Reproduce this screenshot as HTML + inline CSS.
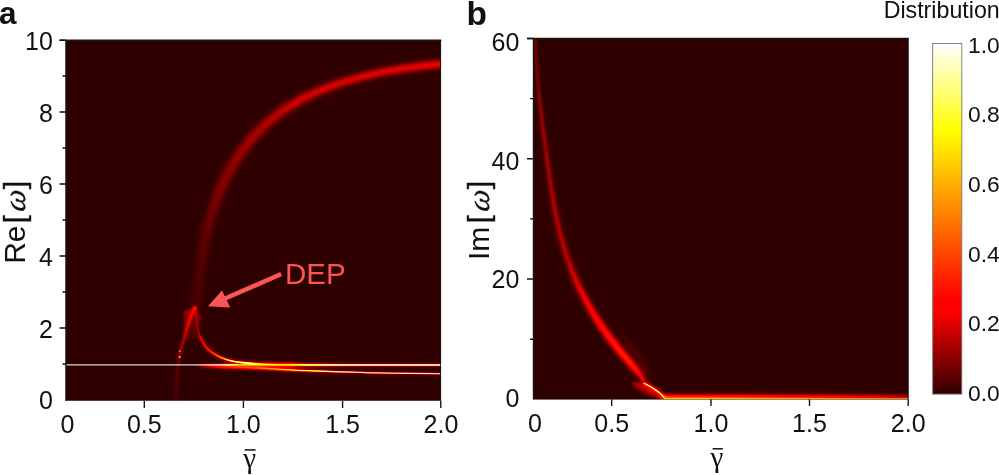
<!DOCTYPE html>
<html><head><meta charset="utf-8"><title>Figure</title>
<style>
html,body{margin:0;padding:0;background:#fff;}
body{width:999px;height:475px;overflow:hidden;position:relative;}
svg{position:absolute;left:0;top:0;display:block;}
text{font-family:"Liberation Sans",sans-serif;fill:#111;}
.tk{font-size:25px;}
.cb{font-size:22.8px;}
.ax text{font-size:30px;}
.ax text.om{font-family:"Liberation Serif","DejaVu Serif",serif;font-style:italic;font-size:30.5px;stroke:#111;stroke-width:0.3px;}
.ax text.br{stroke:#111;stroke-width:0.4px;}
.gm{font-family:"Liberation Serif","DejaVu Serif",serif;font-size:29px;}
.pl{font-weight:bold;}
.s path,.s line,.s circle,.s ellipse{fill:none;stroke:#fff;mix-blend-mode:screen;}
</style></head>
<body>
<svg width="999" height="475" viewBox="0 0 999 475">
<defs>
  <clipPath id="ca"><rect x="65.8" y="40" width="375.2" height="360.8"/></clipPath>
  <clipPath id="cb"><rect x="533.5" y="38.5" width="375" height="360.7"/></clipPath>
  <filter id="hot" color-interpolation-filters="sRGB" x="0" y="0" width="100%" height="100%">
    <feComponentTransfer>
      <feFuncR type="table" tableValues="0.188 0.275 0.361 0.447 0.534 0.620 0.706 0.793 0.879 0.965 1.000 1.000 1.000 1.000 1.000 1.000 1.000 1.000 1.000 1.000 1.000 1.000 1.000 1.000 1.000 1.000 1.000 1.000 1.000 1.000 1.000 1.000 1.000 1.000 1.000 1.000 1.000 1.000 1.000 1.000 1.000"/>
      <feFuncG type="table" tableValues="0.000 0.000 0.000 0.000 0.000 0.000 0.000 0.000 0.000 0.000 0.000 0.010 0.062 0.115 0.167 0.219 0.271 0.323 0.375 0.427 0.479 0.531 0.583 0.635 0.687 0.740 0.792 0.844 0.896 0.948 1.000 1.000 1.000 1.000 1.000 1.000 1.000 1.000 1.000 1.000 1.000"/>
      <feFuncB type="table" tableValues="0.000 0.000 0.000 0.000 0.000 0.000 0.000 0.000 0.000 0.000 0.000 0.000 0.000 0.000 0.000 0.000 0.000 0.000 0.000 0.000 0.000 0.000 0.000 0.000 0.000 0.000 0.000 0.000 0.000 0.000 0.000 0.100 0.200 0.300 0.400 0.500 0.600 0.700 0.800 0.900 1.000"/>
    </feComponentTransfer>
  </filter>
  <filter id="b04" filterUnits="userSpaceOnUse" x="0" y="0" width="999" height="475"><feGaussianBlur stdDeviation="0.4"/></filter>
  <filter id="b05" filterUnits="userSpaceOnUse" x="0" y="0" width="999" height="475"><feGaussianBlur stdDeviation="0.5"/></filter>
  <filter id="b07" filterUnits="userSpaceOnUse" x="0" y="0" width="999" height="475"><feGaussianBlur stdDeviation="0.7"/></filter>
  <filter id="b1" filterUnits="userSpaceOnUse" x="0" y="0" width="999" height="475"><feGaussianBlur stdDeviation="1"/></filter>
  <filter id="b13" filterUnits="userSpaceOnUse" x="0" y="0" width="999" height="475"><feGaussianBlur stdDeviation="1.3"/></filter>
  <filter id="b15" filterUnits="userSpaceOnUse" x="0" y="0" width="999" height="475"><feGaussianBlur stdDeviation="1.5"/></filter>
  <filter id="b18" filterUnits="userSpaceOnUse" x="0" y="0" width="999" height="475"><feGaussianBlur stdDeviation="1.9"/></filter>
  <filter id="b2" filterUnits="userSpaceOnUse" x="0" y="0" width="999" height="475"><feGaussianBlur stdDeviation="2"/></filter>
  <filter id="b24" filterUnits="userSpaceOnUse" x="0" y="0" width="999" height="475"><feGaussianBlur stdDeviation="2.4"/></filter>
  <filter id="b3" filterUnits="userSpaceOnUse" x="0" y="0" width="999" height="475"><feGaussianBlur stdDeviation="3"/></filter>
  <linearGradient id="cbar" x1="0" y1="1" x2="0" y2="0"><stop offset="0.000" stop-color="rgb(48,0,0)"/><stop offset="0.235" stop-color="rgb(255,0,0)"/><stop offset="0.270" stop-color="rgb(255,0,0)"/><stop offset="0.750" stop-color="rgb(255,255,0)"/><stop offset="1.000" stop-color="rgb(255,255,255)"/></linearGradient>
  <linearGradient id="upg" gradientUnits="userSpaceOnUse" x1="195" y1="308" x2="441" y2="63">
    <stop offset="0" stop-color="#fff" stop-opacity="0.000"/>
    <stop offset="0.1" stop-color="#fff" stop-opacity="0.000"/>
    <stop offset="0.17" stop-color="#fff" stop-opacity="0.000"/>
    <stop offset="0.25" stop-color="#fff" stop-opacity="0.011"/>
    <stop offset="0.33" stop-color="#fff" stop-opacity="0.022"/>
    <stop offset="0.41" stop-color="#fff" stop-opacity="0.038"/>
    <stop offset="0.5" stop-color="#fff" stop-opacity="0.066"/>
    <stop offset="0.56" stop-color="#fff" stop-opacity="0.099"/>
    <stop offset="0.64" stop-color="#fff" stop-opacity="0.142"/>
    <stop offset="0.8" stop-color="#fff" stop-opacity="0.186"/>
    <stop offset="1" stop-color="#fff" stop-opacity="0.241"/>
  </linearGradient>
  <linearGradient id="upw" gradientUnits="userSpaceOnUse" x1="195" y1="308" x2="441" y2="63">
    <stop offset="0" stop-color="#fff" stop-opacity="0.034"/>
    <stop offset="0.1" stop-color="#fff" stop-opacity="0.042"/>
    <stop offset="0.17" stop-color="#fff" stop-opacity="0.062"/>
    <stop offset="0.25" stop-color="#fff" stop-opacity="0.080"/>
    <stop offset="0.33" stop-color="#fff" stop-opacity="0.097"/>
    <stop offset="0.41" stop-color="#fff" stop-opacity="0.108"/>
    <stop offset="0.5" stop-color="#fff" stop-opacity="0.102"/>
    <stop offset="0.64" stop-color="#fff" stop-opacity="0.080"/>
    <stop offset="0.8" stop-color="#fff" stop-opacity="0.045"/>
    <stop offset="1" stop-color="#fff" stop-opacity="0.017"/>
  </linearGradient>
  <linearGradient id="lfg" gradientUnits="userSpaceOnUse" x1="0" y1="308" x2="0" y2="401">
    <stop offset="0" stop-color="#fff" stop-opacity="0.200"/>
    <stop offset="0.15" stop-color="#fff" stop-opacity="0.240"/>
    <stop offset="0.4" stop-color="#fff" stop-opacity="0.200"/>
    <stop offset="0.55" stop-color="#fff" stop-opacity="0.140"/>
    <stop offset="0.63" stop-color="#fff" stop-opacity="0.080"/>
    <stop offset="1" stop-color="#fff" stop-opacity="0.040"/>
  </linearGradient>
  <linearGradient id="cng" gradientUnits="userSpaceOnUse" x1="0" y1="306" x2="0" y2="345">
    <stop offset="0" stop-color="#fff" stop-opacity="0.110"/>
    <stop offset="0.25" stop-color="#fff" stop-opacity="0.100"/>
    <stop offset="0.6" stop-color="#fff" stop-opacity="0.050"/>
    <stop offset="1" stop-color="#fff" stop-opacity="0.000"/>
  </linearGradient>
  <linearGradient id="lwg" gradientUnits="userSpaceOnUse" x1="195" y1="308" x2="250" y2="364">
    <stop offset="0" stop-color="#fff" stop-opacity="0.060"/>
    <stop offset="0.175" stop-color="#fff" stop-opacity="0.080"/>
    <stop offset="0.29" stop-color="#fff" stop-opacity="0.120"/>
    <stop offset="0.4" stop-color="#fff" stop-opacity="0.170"/>
    <stop offset="0.53" stop-color="#fff" stop-opacity="0.270"/>
    <stop offset="0.68" stop-color="#fff" stop-opacity="0.500"/>
    <stop offset="0.8" stop-color="#fff" stop-opacity="0.850"/>
    <stop offset="1" stop-color="#fff" stop-opacity="1.000"/>
  </linearGradient>
  <linearGradient id="lwt" gradientUnits="userSpaceOnUse" x1="249.5" y1="0" x2="300" y2="0">
    <stop offset="0" stop-color="#fff" stop-opacity="1.000"/>
    <stop offset="0.3" stop-color="#fff" stop-opacity="0.450"/>
    <stop offset="1" stop-color="#fff" stop-opacity="0.000"/>
  </linearGradient>
  <linearGradient id="lw2" gradientUnits="userSpaceOnUse" x1="225" y1="0" x2="441" y2="0">
    <stop offset="0" stop-color="#fff" stop-opacity="0.000"/>
    <stop offset="0.13" stop-color="#fff" stop-opacity="0.150"/>
    <stop offset="0.25" stop-color="#fff" stop-opacity="0.500"/>
    <stop offset="0.36" stop-color="#fff" stop-opacity="0.850"/>
    <stop offset="0.45" stop-color="#fff" stop-opacity="0.800"/>
    <stop offset="0.6" stop-color="#fff" stop-opacity="0.450"/>
    <stop offset="1" stop-color="#fff" stop-opacity="0.350"/>
  </linearGradient>
  <linearGradient id="lw2h" gradientUnits="userSpaceOnUse" x1="196" y1="0" x2="441" y2="0">
    <stop offset="0" stop-color="#fff" stop-opacity="0.050"/>
    <stop offset="0.12" stop-color="#fff" stop-opacity="0.400"/>
    <stop offset="0.3" stop-color="#fff" stop-opacity="0.500"/>
    <stop offset="0.45" stop-color="#fff" stop-opacity="0.250"/>
    <stop offset="0.6" stop-color="#fff" stop-opacity="0.100"/>
    <stop offset="1" stop-color="#fff" stop-opacity="0.070"/>
  </linearGradient>
  <linearGradient id="o1h" gradientUnits="userSpaceOnUse" x1="205" y1="0" x2="441" y2="0">
    <stop offset="0" stop-color="#fff" stop-opacity="0.050"/>
    <stop offset="0.12" stop-color="#fff" stop-opacity="0.250"/>
    <stop offset="0.2" stop-color="#fff" stop-opacity="0.380"/>
    <stop offset="0.35" stop-color="#fff" stop-opacity="0.380"/>
    <stop offset="0.45" stop-color="#fff" stop-opacity="0.280"/>
    <stop offset="0.6" stop-color="#fff" stop-opacity="0.160"/>
    <stop offset="1" stop-color="#fff" stop-opacity="0.120"/>
  </linearGradient>
  <linearGradient id="o1c" gradientUnits="userSpaceOnUse" x1="200" y1="0" x2="441" y2="0">
    <stop offset="0" stop-color="#fff" stop-opacity="0.100"/>
    <stop offset="0.06" stop-color="#fff" stop-opacity="0.300"/>
    <stop offset="0.14" stop-color="#fff" stop-opacity="0.550"/>
    <stop offset="0.2" stop-color="#fff" stop-opacity="0.400"/>
    <stop offset="0.35" stop-color="#fff" stop-opacity="0.400"/>
    <stop offset="0.45" stop-color="#fff" stop-opacity="0.800"/>
    <stop offset="0.6" stop-color="#fff" stop-opacity="0.500"/>
    <stop offset="1" stop-color="#fff" stop-opacity="0.400"/>
  </linearGradient>
  <linearGradient id="bn" gradientUnits="userSpaceOnUse" x1="0" y1="30" x2="0" y2="382">
    <stop offset="0.0" stop-color="#fff" stop-opacity="0.080"/>
    <stop offset="0.156" stop-color="#fff" stop-opacity="0.107"/>
    <stop offset="0.227" stop-color="#fff" stop-opacity="0.133"/>
    <stop offset="0.369" stop-color="#fff" stop-opacity="0.133"/>
    <stop offset="0.511" stop-color="#fff" stop-opacity="0.120"/>
    <stop offset="0.653" stop-color="#fff" stop-opacity="0.080"/>
    <stop offset="0.795" stop-color="#fff" stop-opacity="0.067"/>
    <stop offset="0.866" stop-color="#fff" stop-opacity="0.067"/>
    <stop offset="0.923" stop-color="#fff" stop-opacity="0.080"/>
    <stop offset="0.98" stop-color="#fff" stop-opacity="0.160"/>
    <stop offset="1" stop-color="#fff" stop-opacity="0.267"/>
  </linearGradient>
  <linearGradient id="bw" gradientUnits="userSpaceOnUse" x1="0" y1="30" x2="0" y2="382">
    <stop offset="0.0" stop-color="#fff" stop-opacity="0.000"/>
    <stop offset="0.156" stop-color="#fff" stop-opacity="0.000"/>
    <stop offset="0.227" stop-color="#fff" stop-opacity="0.011"/>
    <stop offset="0.369" stop-color="#fff" stop-opacity="0.033"/>
    <stop offset="0.511" stop-color="#fff" stop-opacity="0.065"/>
    <stop offset="0.653" stop-color="#fff" stop-opacity="0.109"/>
    <stop offset="0.724" stop-color="#fff" stop-opacity="0.174"/>
    <stop offset="0.795" stop-color="#fff" stop-opacity="0.228"/>
    <stop offset="0.866" stop-color="#fff" stop-opacity="0.293"/>
    <stop offset="0.923" stop-color="#fff" stop-opacity="0.315"/>
    <stop offset="0.96" stop-color="#fff" stop-opacity="0.261"/>
    <stop offset="0.983" stop-color="#fff" stop-opacity="0.130"/>
    <stop offset="1" stop-color="#fff" stop-opacity="0.000"/>
  </linearGradient>
  <linearGradient id="bk" gradientUnits="userSpaceOnUse" x1="643.6" y1="0" x2="664.4" y2="0">
    <stop offset="0" stop-color="#fff" stop-opacity="0.800"/>
    <stop offset="0.2" stop-color="#fff" stop-opacity="0.950"/>
    <stop offset="0.6" stop-color="#fff" stop-opacity="1.000"/>
    <stop offset="0.8" stop-color="#fff" stop-opacity="0.850"/>
    <stop offset="1" stop-color="#fff" stop-opacity="0.600"/>
  </linearGradient>
  <linearGradient id="bl" gradientUnits="userSpaceOnUse" x1="664" y1="0" x2="908" y2="0">
    <stop offset="0" stop-color="#fff" stop-opacity="0.600"/>
    <stop offset="0.3" stop-color="#fff" stop-opacity="0.550"/>
    <stop offset="0.7" stop-color="#fff" stop-opacity="0.420"/>
    <stop offset="1" stop-color="#fff" stop-opacity="0.260"/>
  </linearGradient>
  <linearGradient id="bs" gradientUnits="userSpaceOnUse" x1="0" y1="318" x2="0" y2="383">
    <stop offset="0" stop-color="#fff" stop-opacity="0.000"/>
    <stop offset="0.35" stop-color="#fff" stop-opacity="0.045"/>
    <stop offset="0.8" stop-color="#fff" stop-opacity="0.060"/>
    <stop offset="1" stop-color="#fff" stop-opacity="0.030"/>
  </linearGradient>
  <linearGradient id="ov0" gradientUnits="userSpaceOnUse" x1="66" y1="0" x2="240" y2="0">
    <stop offset="0" stop-color="#fff" stop-opacity="0.85"/><stop offset="0.93" stop-color="#fff" stop-opacity="0.85"/><stop offset="1" stop-color="#fff" stop-opacity="0"/>
  </linearGradient>
  <linearGradient id="ov1" gradientUnits="userSpaceOnUse" x1="290" y1="0" x2="441" y2="0">
    <stop offset="0" stop-color="#fffbe0" stop-opacity="0"/><stop offset="0.3" stop-color="#fffbe0" stop-opacity="0.9"/><stop offset="1" stop-color="#fffdf0" stop-opacity="1"/>
  </linearGradient>
  <linearGradient id="ov2" gradientUnits="userSpaceOnUse" x1="300" y1="0" x2="441" y2="0">
    <stop offset="0" stop-color="#fff6d8" stop-opacity="0"/><stop offset="0.3" stop-color="#fff6d8" stop-opacity="0.9"/><stop offset="1" stop-color="#fff0e8" stop-opacity="0.9"/>
  </linearGradient>
</defs>
<rect x="0" y="0" width="999" height="475" fill="#ffffff"/>

<!-- ================= panel a heat map ================= -->
<g clip-path="url(#ca)">
<g filter="url(#hot)">
  <rect x="60" y="34" width="388" height="374" fill="#000"/>
  <g class="s">
    <!-- upper branch -->
    <path d="M195.7,308.2 L196.2,303.3 L196.8,298.4 L197.4,293.4 L197.9,288.5 L198.5,283.5 L199.1,278.5 L199.8,273.5 L200.5,268.5 L201.2,263.5 L201.9,258.5 L202.8,253.5 L203.6,248.5 L204.6,243.5 L205.5,238.5 L206.6,233.6 L207.7,228.6 L208.9,223.7 L210.2,218.9 L211.6,214.0 L213.1,209.2 L214.6,204.4 L216.3,199.7 L218.0,195.0 L219.9,190.4 L221.9,185.8 L224.0,181.3 L226.2,176.8 L228.6,172.4 L231.0,168.0 L233.5,163.8 L236.2,159.6 L238.9,155.4 L241.8,151.4 L244.7,147.4 L247.8,143.5 L250.9,139.7 L254.2,136.0 L257.6,132.4 L261.0,128.9 L264.6,125.5 L268.2,122.2 L272.0,119.0 L275.8,116.0 L279.7,113.0 L283.7,110.2 L287.8,107.4 L292.0,104.8 L296.3,102.3 L300.6,99.9 L305.0,97.5 L309.5,95.3 L314.0,93.2 L318.6,91.2 L323.3,89.3 L328.0,87.4 L332.7,85.7 L337.5,84.0 L342.3,82.4 L347.2,80.9 L352.1,79.5 L357.0,78.1 L361.9,76.8 L366.9,75.6 L371.9,74.5 L376.8,73.4 L381.8,72.3 L386.8,71.4 L391.8,70.5 L396.8,69.6 L401.8,68.8 L406.8,68.1 L411.8,67.4 L416.7,66.7 L421.6,66.1 L426.5,65.5 L431.4,65.0 L436.2,64.5 L441.0,64.0 L445.7,63.5" style="stroke:url(#upw)" stroke-width="10" filter="url(#b3)"/>
    <path d="M195.7,308.2 L196.2,303.3 L196.8,298.4 L197.4,293.4 L197.9,288.5 L198.5,283.5 L199.1,278.5 L199.8,273.5 L200.5,268.5 L201.2,263.5 L201.9,258.5 L202.8,253.5 L203.6,248.5 L204.6,243.5 L205.5,238.5 L206.6,233.6 L207.7,228.6 L208.9,223.7 L210.2,218.9 L211.6,214.0 L213.1,209.2 L214.6,204.4 L216.3,199.7 L218.0,195.0 L219.9,190.4 L221.9,185.8 L224.0,181.3 L226.2,176.8 L228.6,172.4 L231.0,168.0 L233.5,163.8 L236.2,159.6 L238.9,155.4 L241.8,151.4 L244.7,147.4 L247.8,143.5 L250.9,139.7 L254.2,136.0 L257.6,132.4 L261.0,128.9 L264.6,125.5 L268.2,122.2 L272.0,119.0 L275.8,116.0 L279.7,113.0 L283.7,110.2 L287.8,107.4 L292.0,104.8 L296.3,102.3 L300.6,99.9 L305.0,97.5 L309.5,95.3 L314.0,93.2 L318.6,91.2 L323.3,89.3 L328.0,87.4 L332.7,85.7 L337.5,84.0 L342.3,82.4 L347.2,80.9 L352.1,79.5 L357.0,78.1 L361.9,76.8 L366.9,75.6 L371.9,74.5 L376.8,73.4 L381.8,72.3 L386.8,71.4 L391.8,70.5 L396.8,69.6 L401.8,68.8 L406.8,68.1 L411.8,67.4 L416.7,66.7 L421.6,66.1 L426.5,65.5 L431.4,65.0 L436.2,64.5 L441.0,64.0 L445.7,63.5" style="stroke:url(#upg)" stroke-width="6.5" filter="url(#b18)"/>
    <!-- left branch -->
    <path d="M195.3,306.8 C192.5,312 190,318 188.5,323.6 C187,328 186,332 185,335.4 C184,340 182.4,344 181.2,347.2 C180.3,351 179.8,354 179.3,357.3 C178.6,360 178.1,363 177.7,365.7 C176.8,375 176.2,388 175.8,401" style="stroke:url(#lfg)" stroke-width="2.4" filter="url(#b13)"/>
    <!-- glow between branches -->
    <path d="M195.5,306 C192.5,309.5 188.5,311.3 184,312 L183.5,322 L184,342 L199,338 L201,318 Z" style="fill:url(#cng);stroke:none" filter="url(#b13)"/>
    <!-- lower branch halo -->
    <path d="M199.5,335.4 C200.5,338.5 202,341 203.7,343.8 C205.5,346.5 207.5,349 210.4,351.4 C213,353.5 216,355.5 220.5,357.3 C224,358.8 227,359.8 230.6,360.7 C234,361.5 237,362 240.7,362.3 C246,363 252,363.6 258,364 C270,364.5 280,364.7 295,364.8" stroke-opacity="0.17" stroke-width="3" filter="url(#b15)"/>
    <!-- lower branch core -->
    <path d="M195.5,306.5 C196.3,313 196.7,320 197,325.3 C198,329 198.5,332 199.5,335.4 C200.5,338.5 202,341 203.7,343.8 C205.5,346.5 207.5,349 210.4,351.4 C213,353.5 216,355.5 220.5,357.3 C224,358.8 227,359.8 230.6,360.7 C234,361.5 237,362 240.7,362.3 C244,362.7 247,363.1 250,363.4" style="stroke:url(#lwg)" stroke-width="1.7" filter="url(#b07)"/>
    <path d="M249.5,363.35 C256,363.9 264,364.3 272,364.5 C280,364.7 288,364.8 300,364.8" style="stroke:url(#lwt)" stroke-width="1.7" filter="url(#b07)"/>
    <!-- lower line (omega slightly below 1) -->
    <path d="M196,366.2 C206,366.5 215,366.7 225,367 C235,367.2 244,367.5 252.5,367.9 C262,368.3 271,368.7 280,369.3 C290,369.9 299,370.3 307.6,370.7 C317,371.1 326,371.4 335,371.7 C360,372.6 400,373.3 441,373.7" style="stroke:url(#lw2h)" stroke-width="2.4" filter="url(#b1)"/>
    <path d="M225,367 C235,367.2 244,367.5 252.5,367.9 C262,368.3 271,368.7 280,369.3 C290,369.9 299,370.3 307.6,370.7 C317,371.1 326,371.4 335,371.7 C360,372.6 400,373.3 441,373.7" style="stroke:url(#lw2)" stroke-width="1.2" filter="url(#b04)"/>
    <!-- omega = 1 line: halo + core on the right part -->
    <line x1="205" y1="365" x2="441" y2="365" style="stroke:url(#o1h)" stroke-width="3" filter="url(#b1)"/>
    <line x1="200" y1="364.9" x2="441" y2="364.9" style="stroke:url(#o1c)" stroke-width="1.7" filter="url(#b04)"/>
    <!-- DEP flare -->
    <path d="M183.5,312 C187.5,311.6 192.5,309.8 195.4,306.3" stroke-opacity="0.12" stroke-width="1.8" filter="url(#b1)"/>
    <path d="M195.6,306.5 C197.5,310 199.5,314 201,318" stroke-opacity="0.06" stroke-width="1.6" filter="url(#b1)"/>
    <circle cx="194.6" cy="307.6" r="1.5" style="fill:#fff;stroke:none" fill-opacity="0.08" filter="url(#b1)"/>
  </g>
</g>
<!-- thin grey-white omega = 1 line -->
<line x1="66" y1="364.9" x2="240" y2="364.9" stroke="url(#ov0)" stroke-width="1.1"/>
<circle cx="179.8" cy="351.3" r="0.8" fill="#ffc8c0" fill-opacity="0.8"/><circle cx="179.7" cy="357" r="0.9" fill="#ffd8d0" fill-opacity="0.9"/>
<line x1="290" y1="364.9" x2="441" y2="364.9" stroke="url(#ov1)" stroke-width="1.5"/>
<path d="M300,370.3 C305,370.55 317,371.1 326,371.4 C329,371.5 332,371.6 335,371.7 C360,372.6 400,373.3 441,373.7" fill="none" stroke="url(#ov2)" stroke-width="1.1"/>
</g>
<!-- arrow DEP -->
<line x1="281.2" y1="274" x2="224" y2="299" stroke="#fc5555" stroke-width="4.6"/>
<polygon points="207.9,306.2 222,290.5 230.3,307.5" fill="#fc5555"/>
<text x="285" y="283.7" style="font-size:29.5px;fill:#fc5555">DEP</text>

<!-- axes a -->
<g stroke="#161616" stroke-width="1.4" fill="none">
  <path d="M59.5,40.2H66 M59.5,112H66 M59.5,184H66 M59.5,256H66 M59.5,328H66"/>
  <path d="M62.5,76H66 M62.5,148H66 M62.5,220H66 M62.5,292H66 M62.5,364H66"/>
  <path d="M144.3,401V408 M243.4,401V408 M342.6,401V408 M440.8,401V408"/>
  <path d="M59.5,40.2H441.3 M66,40.2V401"/>
  <path d="M440.6,40.2V401" stroke-width="0.9"/>
</g>
<g class="tk" text-anchor="end">
  <text x="52.8" y="50">10</text>
  <text x="52.8" y="121.5">8</text>
  <text x="52.8" y="193.5">6</text>
  <text x="52.8" y="265.5">4</text>
  <text x="52.8" y="337.5">2</text>
  <text x="52.8" y="409">0</text>
</g>
<g class="tk" text-anchor="middle">
  <text x="67.4" y="433">0</text>
  <text x="144.3" y="433">0.5</text>
  <text x="243.4" y="433">1.0</text>
  <text x="342.6" y="433">1.5</text>
  <text x="441" y="433">2.0</text>
</g>
<g class="ax" transform="translate(25,0)">
  <text transform="translate(0,263.8) rotate(-90)">Re</text>
  <text class="br" transform="translate(0,223.6) rotate(-90)">[</text>
  <text class="om" transform="translate(0.3,212.4) rotate(-90) skewX(-10)">ω</text>
  <text class="br" transform="translate(0,189.3) rotate(-90)">]</text>
</g>
<text class="gm" x="243.2" y="467.6">γ</text>
<line x1="244.6" y1="449.9" x2="255.6" y2="449.9" stroke="#111" stroke-width="1.5"/>
<text class="pl" x="-1" y="24" style="font-size:31.5px">a</text>

<!-- ================= panel b heat map ================= -->
<g clip-path="url(#cb)">
<g filter="url(#hot)">
  <rect x="528" y="32" width="388" height="374" fill="#000"/>
  <g class="s">
    <!-- main branch -->
    <path d="M535.4,30.2 L535.5,34.3 L535.5,38.5 L535.6,42.6 L535.8,46.8 L535.9,51.0 L536.1,55.2 L536.3,59.4 L536.6,63.6 L536.9,67.8 L537.1,72.0 L537.5,76.2 L537.8,80.4 L538.2,84.6 L538.6,88.9 L539.0,93.1 L539.4,97.4 L539.8,101.6 L540.3,105.9 L540.8,110.1 L541.3,114.4 L541.8,118.6 L542.3,122.9 L542.8,127.1 L543.4,131.4 L543.9,135.6 L544.5,139.9 L545.0,144.1 L545.6,148.4 L546.2,152.6 L546.7,156.9 L547.3,161.1 L547.9,165.3 L548.5,169.6 L549.1,173.8 L549.7,178.0 L550.3,182.2 L551.0,186.4 L551.6,190.6 L552.3,194.8 L553.0,199.0 L553.7,203.1 L554.5,207.3 L555.2,211.4 L556.1,215.6 L556.9,219.7 L557.8,223.8 L558.8,227.9 L559.7,232.0 L560.8,236.0 L561.8,240.1 L563.0,244.1 L564.1,248.2 L565.4,252.2 L566.7,256.2 L568.0,260.2 L569.5,264.1 L571.0,268.1 L572.5,272.0 L574.1,275.9 L575.8,279.8 L577.5,283.6 L579.3,287.5 L581.2,291.3 L583.1,295.1 L585.1,298.9 L587.1,302.6 L589.2,306.3 L591.3,310.0 L593.5,313.7 L595.7,317.3 L598.0,320.9 L600.3,324.5 L602.7,328.0 L605.1,331.5 L607.6,335.0 L610.1,338.4 L612.7,341.8 L615.3,345.2 L618.0,348.5 L620.7,351.8 L623.4,355.1 L626.2,358.3 L629.0,361.5 L631.7,364.7 L634.4,367.9 L637.1,371.1 L639.6,374.4 L641.9,377.8 L644.1,381.2" style="stroke:url(#bw)" stroke-width="7" filter="url(#b2)"/>
    <path d="M535.4,30.2 L535.5,34.3 L535.5,38.5 L535.6,42.6 L535.8,46.8 L535.9,51.0 L536.1,55.2 L536.3,59.4 L536.6,63.6 L536.9,67.8 L537.1,72.0 L537.5,76.2 L537.8,80.4 L538.2,84.6 L538.6,88.9 L539.0,93.1 L539.4,97.4 L539.8,101.6 L540.3,105.9 L540.8,110.1 L541.3,114.4 L541.8,118.6 L542.3,122.9 L542.8,127.1 L543.4,131.4 L543.9,135.6 L544.5,139.9 L545.0,144.1 L545.6,148.4 L546.2,152.6 L546.7,156.9 L547.3,161.1 L547.9,165.3 L548.5,169.6 L549.1,173.8 L549.7,178.0 L550.3,182.2 L551.0,186.4 L551.6,190.6 L552.3,194.8 L553.0,199.0 L553.7,203.1 L554.5,207.3 L555.2,211.4 L556.1,215.6 L556.9,219.7 L557.8,223.8 L558.8,227.9 L559.7,232.0 L560.8,236.0 L561.8,240.1 L563.0,244.1 L564.1,248.2 L565.4,252.2 L566.7,256.2 L568.0,260.2 L569.5,264.1 L571.0,268.1 L572.5,272.0 L574.1,275.9 L575.8,279.8 L577.5,283.6 L579.3,287.5 L581.2,291.3 L583.1,295.1 L585.1,298.9 L587.1,302.6 L589.2,306.3 L591.3,310.0 L593.5,313.7 L595.7,317.3 L598.0,320.9 L600.3,324.5 L602.7,328.0 L605.1,331.5 L607.6,335.0 L610.1,338.4 L612.7,341.8 L615.3,345.2 L618.0,348.5 L620.7,351.8 L623.4,355.1 L626.2,358.3 L629.0,361.5 L631.7,364.7 L634.4,367.9 L637.1,371.1 L639.6,374.4 L641.9,377.8 L644.1,381.2" style="stroke:url(#bn)" stroke-width="3" filter="url(#b13)"/>
    <!-- faint secondary branch -->
    <path d="M612,318 L621,332.6 L635,352 L646,370 L650,383" style="stroke:url(#bs)" stroke-width="4" filter="url(#b24)"/>
    <!-- knee: red dome below, thin cap line, halo, bright core -->
    <path d="M632,383.5 L643.6,383 L656.8,390.7 L664,397.5 L659,398.6 C650,397 638,390 632,384.5 Z" style="fill:#fff;stroke:none" fill-opacity="0.15" filter="url(#b15)"/>
    <path d="M632,383.6 L643.6,383.2" stroke-opacity="0.11" stroke-width="1.5" filter="url(#b1)"/>
    <path d="M643.6,383 C649,385.5 653,388 656.8,390.7 C659.5,392.5 662,395 664.4,397.5" stroke-opacity="0.25" stroke-width="4" filter="url(#b15)"/>
    <path d="M643.6,383 C649,385.5 653,388 656.8,390.7 C659.5,392.5 662,395 664.4,397.5" style="stroke:url(#bk)" stroke-width="1.3" filter="url(#b07)"/>
    <!-- bottom line -->
    <line x1="662" y1="398.4" x2="910" y2="398.4" style="stroke:url(#bl)" stroke-width="5" filter="url(#b18)"/>
    <line x1="664" y1="399" x2="910" y2="399" stroke-opacity="0.5" stroke-width="1.4" filter="url(#b07)"/>
  </g>
</g>
</g>
<g stroke="#161616" stroke-width="1.4" fill="none">
  <path d="M527,38.5H533.5 M527,158.7H533.5 M527,279H533.5"/>
  <path d="M530,98.6H533.5 M530,218.9H533.5 M530,339.2H533.5"/>
  <path d="M611.7,399.3V406 M711,399.3V406 M809.5,399.3V406 M908.2,399.3V406"/>
  <path d="M533.5,38.5V399.3 M527,38.5H908.9"/>
  <path d="M908.1,38.5V399.5" stroke-width="0.9"/>
  <path d="M533,399.45H908.5" stroke-width="0.7" stroke-opacity="0.7"/>
</g>
<g class="tk" text-anchor="end">
  <text x="519.4" y="51.2">60</text>
  <text x="519.4" y="169.8">40</text>
  <text x="519.4" y="288.2">20</text>
  <text x="519.4" y="407.1">0</text>
</g>
<g class="tk" text-anchor="middle">
  <text x="534.9" y="431.8">0</text>
  <text x="611.7" y="431.8">0.5</text>
  <text x="711" y="431.8">1.0</text>
  <text x="809.5" y="431.8">1.5</text>
  <text x="908.2" y="431.8">2.0</text>
</g>
<g class="ax" transform="translate(488.8,0)">
  <text transform="translate(0,260.1) rotate(-90)">Im</text>
  <text class="br" transform="translate(0,223.6) rotate(-90)">[</text>
  <text class="om" transform="translate(0.3,212.4) rotate(-90) skewX(-10)">ω</text>
  <text class="br" transform="translate(0,189.3) rotate(-90)">]</text>
</g>
<text class="gm" x="710.6" y="466.6">γ</text>
<line x1="712.6" y1="448.8" x2="722.8" y2="448.8" stroke="#111" stroke-width="1.5"/>
<text class="pl" x="466.5" y="24.6" style="font-size:33.5px">b</text>

<!-- colorbar -->
<rect x="932.7" y="43.5" width="29.1" height="350.6" fill="url(#cbar)" stroke="#777" stroke-width="0.9"/>
<g class="cb">
  <text x="968" y="52.7">1.0</text>
  <text x="968" y="122.3">0.8</text>
  <text x="968" y="191.9">0.6</text>
  <text x="968" y="261.6">0.4</text>
  <text x="968" y="331.2">0.2</text>
  <text x="968" y="400.9">0.0</text>
</g>
<text x="883.7" y="17.5" style="font-size:23.2px">Distribution</text>
</svg>
</body></html>
